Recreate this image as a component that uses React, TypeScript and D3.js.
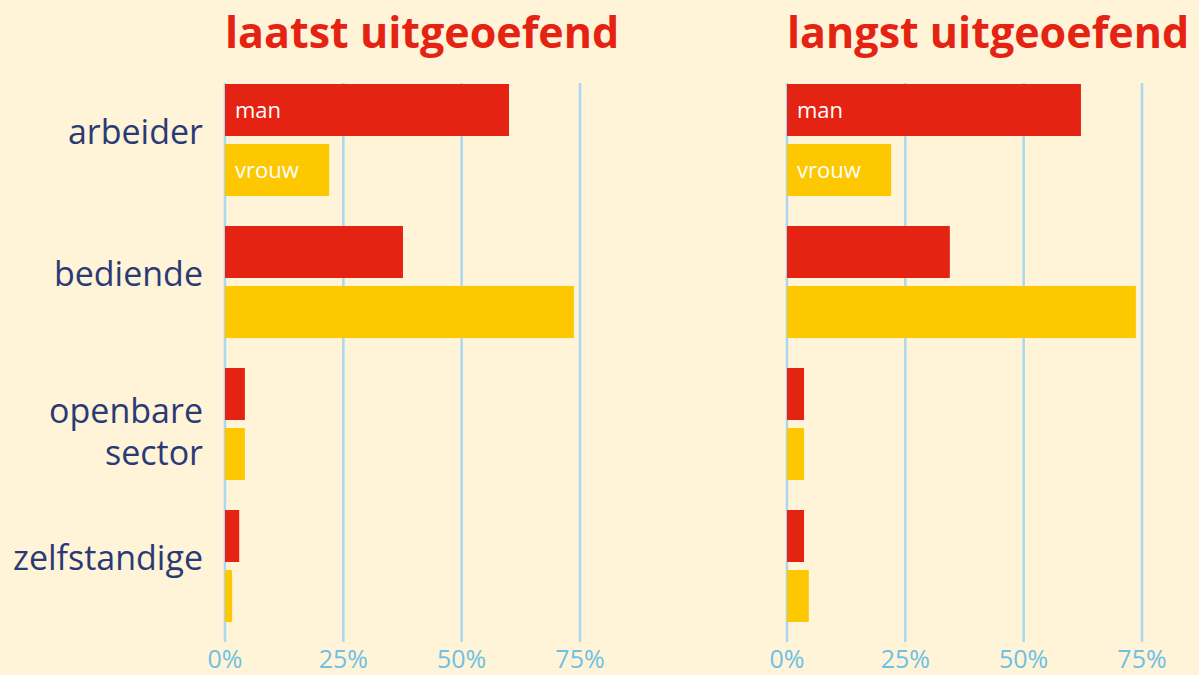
import React, { useEffect, useRef } from 'react';
import * as d3 from 'd3';

const categories = ['arbeider', 'bediende', 'openbare sector', 'zelfstandige'];
const seriesNames = ['man', 'vrouw'];
const panelTitles = ['laatst uitgeoefend', 'langst uitgeoefend'];
const tickValues = [0, 25, 50, 75];

// percentages per category, man / vrouw
const laatstMan = [60, 37.6, 4.2, 3.0];
const laatstVrouw = [22, 73.7, 4.2, 1.5];
const langstMan = [62.1, 34.4, 3.6, 3.6];
const langstVrouw = [22, 73.7, 3.6, 4.6];

const panels = [
  { title: panelTitles[0], man: laatstMan, vrouw: laatstVrouw },
  { title: panelTitles[1], man: langstMan, vrouw: langstVrouw },
];

const colors: Record<string, string> = { man: '#E42313', vrouw: '#FDC800' };

const App = () => {
  const svgRef = useRef<SVGSVGElement>(null);

  useEffect(() => {
    const svg = d3.select(svgRef.current);
    svg.selectAll('*').remove();
    const width = 1199;
    const height = 675;
    const font = '"Open Sans", sans-serif';

    svg.append('rect').attr('width', width).attr('height', height).attr('fill', '#FFF3D8');

    const yScale = d3.scaleBand().domain(categories).range([84, 622]).paddingInner(30 / 142).paddingOuter(0);
    const ySub = d3.scaleBand().domain(seriesNames).range([0, yScale.bandwidth()]).paddingInner(8 / 60);
    const xScale = d3.scaleLinear().domain([0, 75]).range([0, 355]);

    const origins = [225, 787];

    panels.forEach((p, i) => {
      const g = svg.append('g').attr('transform', `translate(${origins[i]},0)`);

      // gridlines
      g.selectAll('.grid')
        .data(tickValues)
        .enter().append('line')
        .attr('x1', d => xScale(d))
        .attr('x2', d => xScale(d))
        .attr('y1', 83)
        .attr('y2', 642)
        .attr('stroke', '#A9D8F0')
        .attr('stroke-width', 2.5);

      // tick labels
      g.selectAll('.tick-label')
        .data(tickValues)
        .enter().append('text')
        .attr('x', d => xScale(d))
        .attr('y', 668)
        .attr('text-anchor', 'middle')
        .attr('font-family', font)
        .attr('font-size', 25)
        .attr('fill', '#6EC1E4')
        .text(d => `${d}%`);

      // bars
      categories.forEach((c, ci) => {
        seriesNames.forEach(s => {
          const v = s === 'man' ? p.man[ci] : p.vrouw[ci];
          g.append('rect')
            .attr('x', xScale(0))
            .attr('y', (yScale(c) as number) + (ySub(s) as number))
            .attr('width', xScale(v) - xScale(0))
            .attr('height', ySub.bandwidth())
            .attr('fill', colors[s]);
        });
      });

      // in-bar series labels on first category
      seriesNames.forEach(s => {
        g.append('text')
          .attr('x', xScale(0) + 10)
          .attr('y', (yScale(categories[0]) as number) + (ySub(s) as number) + ySub.bandwidth() / 2 + 8)
          .attr('font-family', font)
          .attr('font-size', 22)
          .attr('fill', '#FFFFFF')
          .text(s);
      });

      // title
      g.append('text')
        .attr('x', 0)
        .attr('y', 48)
        .attr('font-family', font)
        .attr('font-weight', 700)
        .attr('font-size', 43)
        .attr('fill', '#E42313')
        .text(p.title);
    });

    // category labels
    categories.forEach(c => {
      const mid = (yScale(c) as number) + yScale.bandwidth() / 2;
      const words = c.split(' ');
      const t = svg.append('text')
        .attr('text-anchor', 'end')
        .attr('font-family', font)
        .attr('font-size', 34)
        .attr('fill', '#2A3A75');
      words.forEach((w, wi) => {
        t.append('tspan')
          .attr('x', 203)
          .attr('y', words.length > 1 ? mid - 1 + wi * 42 : mid + 4)
          .text(w);
      });
    });
  }, []);

  return <svg ref={svgRef} width={1199} height={675} style={{ display: 'block', position: 'absolute', left: 0, top: 0 }}></svg>;
};

export default App;
